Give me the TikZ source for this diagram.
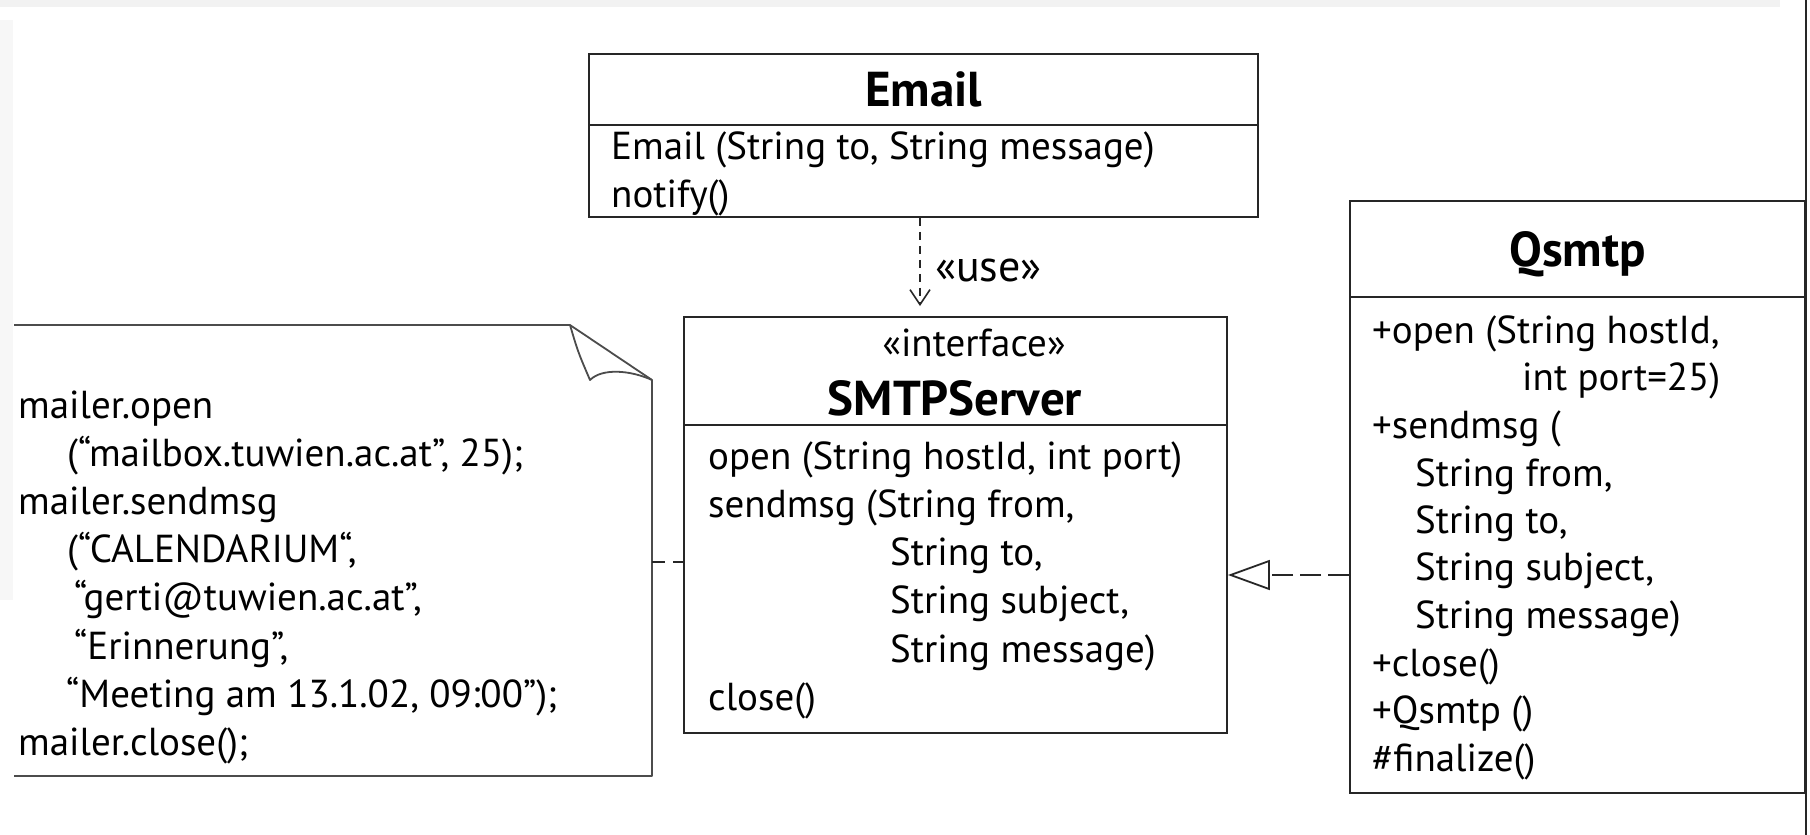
\documentclass[tikz,border=0pt]{standalone}
\usepackage{fontspec}
\setmainfont{PT Sans}
\usetikzlibrary{arrows.meta}
\begin{document}
\begin{tikzpicture}[x=1pt,y=-1pt,
  umlbox/.style={draw=black!85, line width=1.8pt, inner sep=0pt},
  rule/.style={draw=black!85, line width=1.8pt},
  txt/.style={anchor=base west, inner sep=0pt, font=\fontsize{39}{48}\selectfont},
  ster/.style={anchor=base, inner sep=0pt, font=\fontsize{39}{48}\selectfont},
  ttl/.style={anchor=base, inner sep=0pt, font=\fontsize{49}{54}\selectfont\bfseries},
  usedep/.style={draw=black!85, line width=1.6pt, dash pattern=on 8pt off 6pt,
    -{Straight Barb[length=15pt,width=20pt,line width=1.6pt]}},
  realize/.style={draw=black!85, line width=1.8pt, dash pattern=on 21pt off 7pt,
    -{Triangle[open,length=42pt,width=30pt,line width=1.8pt]}},
  notelink/.style={draw=black!85, line width=1.6pt, dash pattern=on 13pt off 8pt},
  noteedge/.style={draw=black!70, line width=1.8pt, line join=round},
]
\useasboundingbox (0,0) rectangle (1810,835);
\fill[white] (0,0) rectangle (1810,835);
% faded strips along the top and left border of the sheet
\fill[black!5] (0,0) rectangle (1780,7);
\fill[black!3] (0,20) rectangle (13,600);
% sheet edge on the right
\coordinate (edgeTop) at (1806,0);
\coordinate (edgeBot) at (1806,835);
\draw[black!85, line width=2pt] (edgeTop) -- (edgeBot);

% ---------- class Email ----------
\node[umlbox, minimum width=669pt, minimum height=163pt] (email) at (923.5,135.5) {};
\coordinate (eDiv) at (0,125);
\draw[rule] (email.west |- eDiv) -- (email.east |- eDiv);
\node[ttl] (email-name) at (923.5,106) {Email};
\node[txt] (email-op1) at (611,159) {Email (String to, String message)};
\node[txt] (email-op2) at (611,207) {notify()};

% ---------- interface SMTPServer ----------
\node[umlbox, minimum width=543pt, minimum height=416pt] (smtp) at (955.5,525) {};
\coordinate (sDiv) at (0,425);
\draw[rule] (smtp.west |- sDiv) -- (smtp.east |- sDiv);
\node[ster] (smtp-st) at (974,356) {«interface»};
\node[ttl] (smtp-name) at (955,415) {SMTPServer};
\node[txt] (smtp-op1) at (708,469) {open (String hostId, int port)};
\node[txt] (smtp-op2) at (708,517) {sendmsg (String from,};
\node[txt] (smtp-op3) at (890,565) {String to,};
\node[txt] (smtp-op4) at (890,613) {String subject,};
\node[txt] (smtp-op5) at (890,662) {String message)};
\node[txt] (smtp-op6) at (708,710) {close()};

% ---------- class Qsmtp ----------
\node[umlbox, minimum width=455pt, minimum height=592pt] (qsmtp) at (1577.5,497) {};
\coordinate (qDiv) at (0,297);
\draw[rule] (qsmtp.west |- qDiv) -- (qsmtp.east |- qDiv);
\node[ttl] (qsmtp-name) at (1577.5,266) {Qsmtp};
\node[txt] (qsmtp-op1) at (1372,343) {+open (String hostId,};
\node[txt] (qsmtp-op2) at (1522,390) {int port=25)};
\node[txt] (qsmtp-op3) at (1372,438) {+sendmsg (};
\node[txt] (qsmtp-op4) at (1415,486) {String from,};
\node[txt] (qsmtp-op5) at (1415,533) {String to,};
\node[txt] (qsmtp-op6) at (1415,580) {String subject,};
\node[txt] (qsmtp-op7) at (1415,628) {String message)};
\node[txt] (qsmtp-op8) at (1372,676) {+close()};
\node[txt] (qsmtp-op9) at (1372,723) {+Qsmtp ()};
\node[txt] (qsmtp-op10) at (1372,771) {\#finalize()};

% ---------- note with folded corner ----------
\draw[noteedge] (14,325) -- (570,325) -- (652,380) -- (652,776) -- (14,776);
\draw[noteedge] (570,325) .. controls (578,352) .. (590,380)
  .. controls (602,368) and (630,370) .. (652,380);
\node[txt] (note-1) at (18,418) {mailer.open};
\node[txt] (note-2) at (67,466) {(“mailbox.tuwien.ac.at”, 25);};
\node[txt] (note-3) at (18,514) {mailer.sendmsg};
\node[txt] (note-4) at (67,562) {(“CALENDARIUM“,};
\node[txt] (note-5) at (74,610) {“gerti@tuwien.ac.at”,};
\node[txt] (note-6) at (74,659) {“Erinnerung”,};
\node[txt] (note-7) at (66,707) {“Meeting am 13.1.02, 09:00”);};
\node[txt] (note-8) at (18,755) {mailer.close();};
\coordinate (noteport) at (652,562);

% ---------- connectors ----------
\coordinate (useX) at (920,0);
\draw[usedep, shorten >=10pt] (email.south -| useX) -- (smtp.north -| useX);
\node[txt, font=\fontsize{44}{48}\selectfont] (use-lbl) at (935,281) {«use»};

\coordinate (realY) at (0,575);
\draw[realize] (qsmtp.west |- realY) -- (smtp.east |- realY);

\draw[notelink] (noteport) -- (smtp.west |- noteport);
\end{tikzpicture}
\end{document}
